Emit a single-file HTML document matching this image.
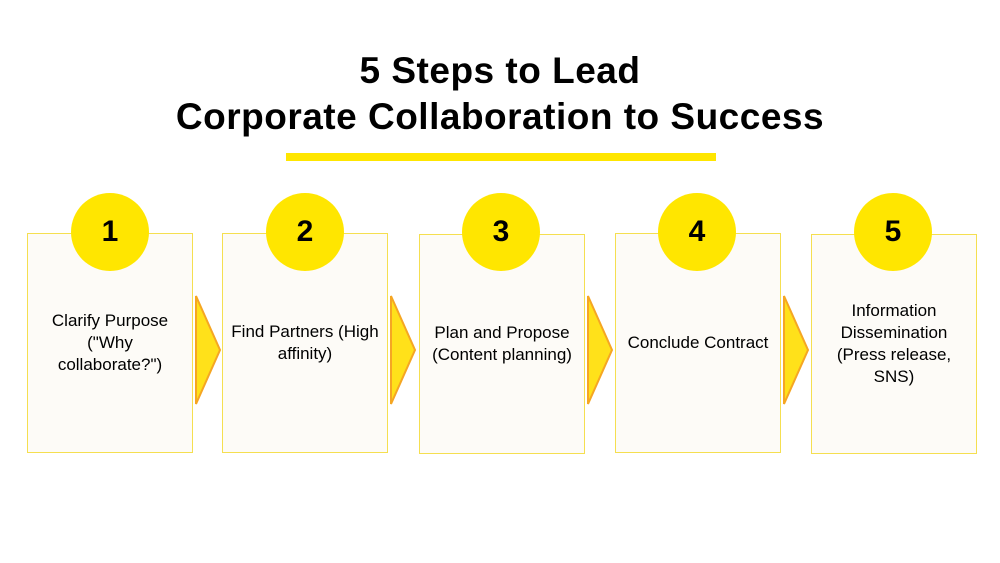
<!DOCTYPE html>
<html><head><style>
body{margin:0;width:1000px;height:563px;background:#fff;position:relative;font-family:"Liberation Sans",sans-serif;overflow:hidden}
.t{position:absolute;left:0;width:1000px;text-align:center;font-weight:bold;font-size:37px;letter-spacing:0.5px;color:#000}
.bar{position:absolute;left:286px;top:153px;width:430px;height:8px;background:#ffe600}
.box{position:absolute;width:164px;height:218px;border:1.5px solid #f5df50;background:#fdfbf7;display:flex;align-items:center;justify-content:center;text-align:center;font-size:17px;line-height:22px;color:#000}
.c{position:absolute;width:78px;height:78px;border-radius:50%;background:#ffe600;font-weight:bold;font-size:30px;display:flex;align-items:center;justify-content:center}
svg{position:absolute}
</style></head><body>
<div class="t" style="top:50px">5 Steps to Lead</div>
<div class="t" style="top:96px">Corporate Collaboration to Success</div>
<div class="bar"></div>

<div class="box" style="left:27px;top:233px"><span>Clarify Purpose<br>("Why<br>collaborate?")</span></div>
<div class="box" style="left:222px;top:233px"><span>Find Partners (High<br>affinity)</span></div>
<div class="box" style="left:419px;top:234px"><span>Plan and Propose<br>(Content planning)</span></div>
<div class="box" style="left:615px;top:233px"><span>Conclude Contract</span></div>
<div class="box" style="left:811px;top:234px"><span>Information<br>Dissemination<br>(Press release,<br>SNS)</span></div>

<div class="c" style="left:71px;top:193px">1</div>
<div class="c" style="left:266px;top:193px">2</div>
<div class="c" style="left:462px;top:193px">3</div>
<div class="c" style="left:658px;top:193px">4</div>
<div class="c" style="left:854px;top:193px">5</div>

<svg width="1000" height="563" style="left:0;top:0">
<g fill="#ffe11a" stroke="#f5a623" stroke-width="2">
<polygon points="196,296 220,350 196,404"/>
<polygon points="391,296 415,350 391,404"/>
<polygon points="588,296 612,350 588,404"/>
<polygon points="784,296 808,350 784,404"/>
</g>
</svg>
</body></html>
